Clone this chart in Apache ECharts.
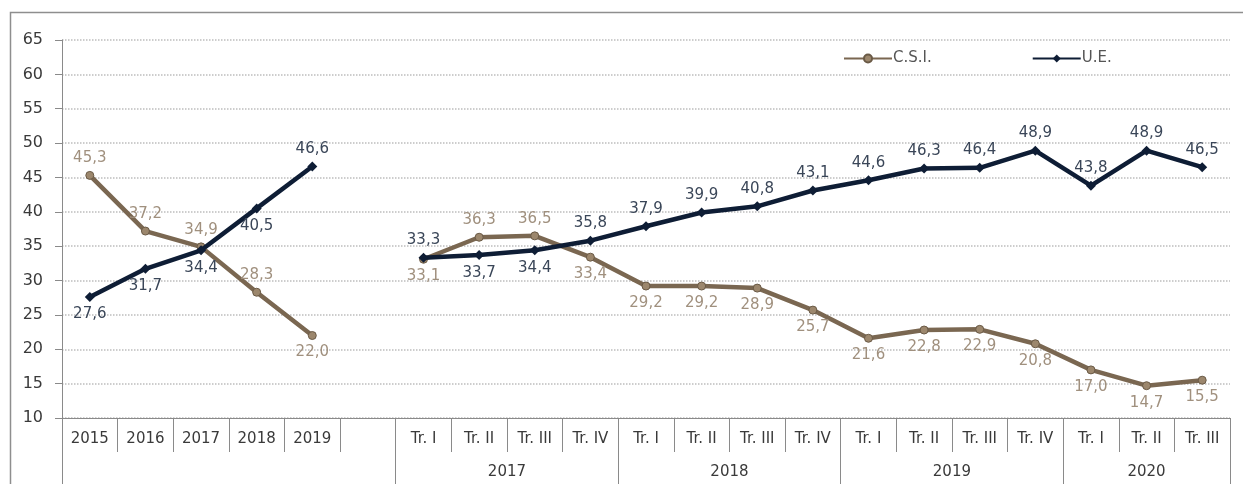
<!DOCTYPE html>
<html>
<head>
<meta charset="utf-8">
<script src="https://cdn.jsdelivr.net/npm/echarts@6/dist/echarts.min.js"></script>
<style>
  html, body { margin: 0; padding: 0; background: #fff; }
  #chart { width: 1243px; height: 484px; }
</style>
</head>
<body>
<div id="chart"></div>
<script>
// Annual block
const annualYears = ['2015', '2016', '2017', '2018', '2019'];
const csiAnnual = [45.3, 37.2, 34.9, 28.3, 22.0];
const ueAnnual = [27.6, 31.7, 34.4, 40.5, 46.6];

// Quarterly block
const quarterYears = ['2017', '2018', '2019', '2020'];
const quartersPerYear = [4, 4, 4, 3];
const quarterNames = ['Tr. I', 'Tr. II', 'Tr. III', 'Tr. IV'];
const csiQuarterly = [33.1, 36.3, 36.5, 33.4, 29.2, 29.2, 28.9, 25.7, 21.6, 22.8, 22.9, 20.8, 17.0, 14.7, 15.5];
const ueQuarterly = [33.3, 33.7, 34.4, 35.8, 37.9, 39.9, 40.8, 43.1, 44.6, 46.3, 46.4, 48.9, 43.8, 48.9, 46.5];

// Value axis
const yMin = 10, yMax = 65, yStep = 5;

// Label placement (annual + gap + quarterly)
const csiLabelSide = ['top', 'top', 'top', 'top', 'bottom', null,
  'bottom', 'top', 'top', 'bottom', 'bottom', 'bottom', 'bottom', 'bottom',
  'bottom', 'bottom', 'bottom', 'bottom', 'bottom', 'bottom', 'bottom'];
const ueLabelSide = ['bottom', 'bottom', 'bottom', 'bottom', 'top', null,
  'top', 'bottom', 'bottom', 'top', 'top', 'top', 'top', 'top',
  'top', 'top', 'top', 'top', 'top', 'top', 'top'];

// Category list: years, an empty separator slot, then quarters per year
const quarterCats = [];
quartersPerYear.forEach(n => { for (let i = 0; i < n; i++) quarterCats.push(quarterNames[i]); });
const categories = annualYears.concat([''], quarterCats);

// Year group boundaries and centres on the secondary (continuous) axis
const groupStart = annualYears.length + 1;
const groupBounds = [0, groupStart];
const groupCentres = [];
const centreToYear = {};
let pos = groupStart;
quartersPerYear.forEach((n, i) => {
  const c = pos + n / 2;
  groupCentres.push(c);
  centreToYear[c] = quarterYears[i];
  pos += n;
  groupBounds.push(pos);
});

const fmt = v => v.toFixed(1).replace('.', ',');
const FONT = 'DejaVu Sans';

function buildData(annual, quarterly, sides) {
  const vals = annual.concat([null], quarterly);
  return vals.map((v, i) => v === null ? null : { value: v, label: { position: sides[i] } });
}

const chart = echarts.init(document.getElementById('chart'), null, { renderer: 'canvas' });

chart.setOption({
  animation: false,
  backgroundColor: '#ffffff',
  graphic: [{
    type: 'rect',
    shape: { x: 10.5, y: 12.5, width: 1300, height: 520 },
    style: { fill: 'none', stroke: '#8e8e8e', lineWidth: 1.5 },
    silent: true,
    z: 0
  }],
  grid: { left: 62, right: 13, top: 40, bottom: 66, containLabel: false },
  legend: {
    left: 838,
    top: 46,
    itemWidth: 48,
    itemHeight: 10,
    itemGap: 100,
    textStyle: { fontFamily: FONT, fontSize: 15, color: '#555', padding: [0, 0, 0, -4] },
    data: ['C.S.I.', 'U.E.']
  },
  xAxis: [{
    type: 'category',
    data: categories,
    boundaryGap: true,
    position: 'bottom',
    axisLine: { lineStyle: { color: '#8a8a8a', width: 1 } },
    axisTick: { show: true, interval: 0, length: 34, lineStyle: { color: '#8a8a8a', width: 1 } },
    axisLabel: { interval: 0, margin: 14, fontFamily: FONT, fontSize: 15, color: '#3a3a3a' },
    splitLine: { show: false }
  }, {
    type: 'value',
    min: 0,
    max: categories.length,
    position: 'bottom',
    axisLine: { show: false },
    splitLine: { show: false },
    axisTick: { show: true, length: 66, customValues: groupBounds, lineStyle: { color: '#8a8a8a', width: 1 } },
    axisLabel: {
      customValues: groupCentres,
      margin: 47,
      fontFamily: FONT, fontSize: 15, color: '#3a3a3a',
      formatter: v => centreToYear[v] || ''
    }
  }],
  yAxis: {
    type: 'value',
    min: yMin,
    max: yMax,
    interval: yStep,
    axisLine: { show: true, lineStyle: { color: '#8a8a8a', width: 1 } },
    axisTick: { show: true, length: 7, lineStyle: { color: '#8a8a8a' } },
    axisLabel: { margin: 19, fontFamily: FONT, fontSize: 16, color: '#3a3a3a' },
    splitLine: { show: true, lineStyle: { color: '#bdbdbd', type: 'dotted', width: 1.5 } }
  },
  series: [{
    name: 'C.S.I.',
    type: 'line',
    xAxisIndex: 0,
    data: buildData(csiAnnual, csiQuarterly, csiLabelSide),
    connectNulls: false,
    symbol: 'circle',
    symbolSize: 8,
    lineStyle: { color: '#7a6751', width: 4.5 },
    itemStyle: { color: '#9c876d', borderColor: '#6a5a46', borderWidth: 1 },
    label: {
      show: true,
      fontFamily: FONT, fontSize: 15, color: '#a0907e',
      formatter: p => fmt(p.value)
    },
    z: 3
  }, {
    name: 'U.E.',
    type: 'line',
    xAxisIndex: 0,
    data: buildData(ueAnnual, ueQuarterly, ueLabelSide),
    connectNulls: false,
    symbol: 'diamond',
    symbolSize: 10,
    lineStyle: { color: '#0e1d35', width: 4.5 },
    itemStyle: { color: '#0e1d35' },
    label: {
      show: true,
      fontFamily: FONT, fontSize: 15, color: '#3a4658',
      formatter: p => fmt(p.value)
    },
    z: 4
  }]
});
</script>
</body>
</html>
